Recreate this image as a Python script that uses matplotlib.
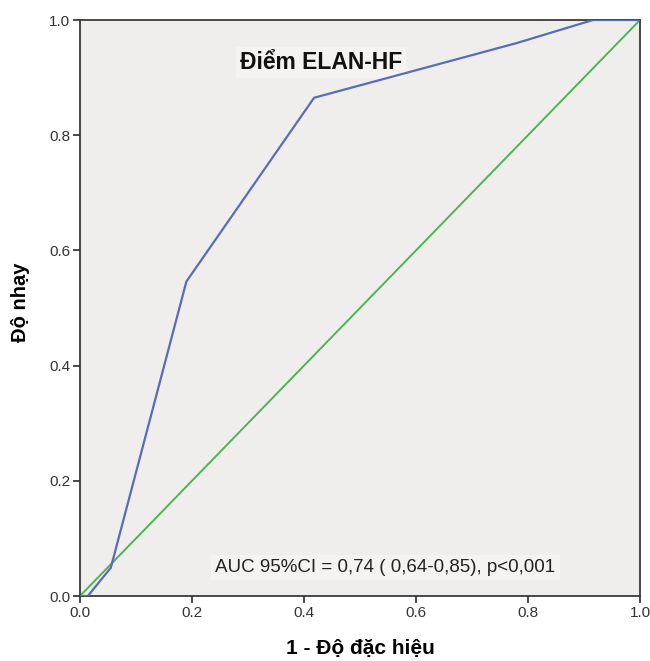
import matplotlib
matplotlib.use("Agg")
import matplotlib.pyplot as plt

fpr = [0.0, 0.014, 0.055, 0.19, 0.418, 0.78, 0.916, 1.0]
tpr = [0.0, 0.0, 0.049, 0.546, 0.865, 0.96, 1.0, 1.0]
ref_x = [0.0, 1.0]
ref_y = [0.0, 1.0]
ticks = [0.0, 0.2, 0.4, 0.6, 0.8, 1.0]
tick_labels = ["0.0", "0.2", "0.4", "0.6", "0.8", "1.0"]

plt.rcParams['font.family'] = ['Liberation Sans', 'DejaVu Sans']

fig = plt.figure(figsize=(6.5, 6.61), dpi=100)
ax = fig.add_axes([80/650, 1-596/661, 560/650, 576/661])
ax.set_facecolor('#f0eeec')
ax.plot(ref_x, ref_y, color='#4cb552', lw=1.4, zorder=2)
ax.plot(fpr, tpr, color='#5a6bb8', lw=1.6, zorder=3)
ax.set_xlim(0, 1)
ax.set_ylim(0, 1)
ax.set_xticks(ticks)
ax.set_xticklabels(tick_labels)
ax.set_yticks(ticks)
ax.set_yticklabels(tick_labels)
for s in ax.spines.values():
    s.set_color('#3a3a3a')
    s.set_linewidth(1.3)
ax.tick_params(direction='out', length=5, width=1.3, color='#3a3a3a',
               labelsize=11, labelcolor='#333333', pad=2)
ax.set_xlabel('1 - Độ đặc hiệu', fontsize=15, fontweight='bold')
ax.set_ylabel('Độ nhạy', fontsize=14.5, fontweight='bold')
ax.xaxis.set_label_coords(0.5, -0.075)
ax.yaxis.set_label_coords(-0.089, 0.51)
ax.text(0.430, 0.926, 'Điểm ELAN-HF', fontsize=16.5, fontweight='bold',
        ha='center', va='center', transform=ax.transAxes, color='#111111',
        zorder=1.5, bbox=dict(facecolor='#f4f3f1', edgecolor='none', pad=3))
ax.text(0.5455, 0.05, 'AUC 95%CI = 0,74 ( 0,64-0,85), p<0,001', fontsize=13.5,
        ha='center', va='center', transform=ax.transAxes, color='#222222',
        zorder=1.5, bbox=dict(facecolor='#f4f3f1', edgecolor='none', pad=3))
fig.savefig('out.png', dpi=100)
